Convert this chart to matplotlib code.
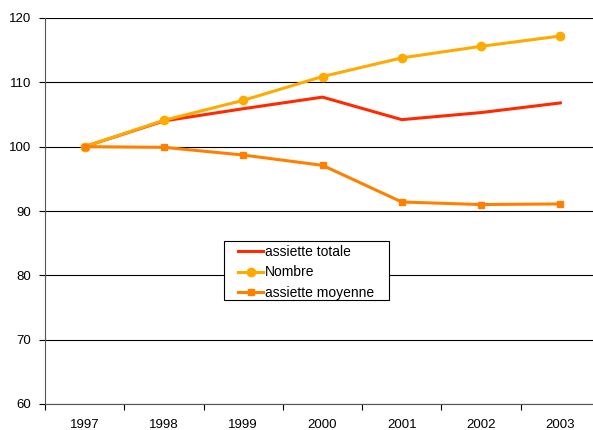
import matplotlib.pyplot as plt
import matplotlib.patches as patches
import numpy as np

plt.rcParams['font.family'] = ['Liberation Sans', 'DejaVu Sans']

years = ["1997", "1998", "1999", "2000", "2001", "2002", "2003"]
assiette_totale = [100.0, 104.0, 105.9, 107.7, 104.2, 105.3, 106.8]
nombre = [100.0, 104.1, 107.2, 110.9, 113.8, 115.6, 117.2]
assiette_moyenne = [100.0, 99.9, 98.7, 97.1, 91.4, 91.0, 91.1]

W, H = 593, 430
fig = plt.figure(figsize=(W / 100, H / 100), dpi=100)
ax = fig.add_axes([45 / W, 26 / H, 555 / W, 386 / H])

x = np.arange(len(years))
ax.plot(x, assiette_totale, color="#FF2A00", lw=2.2, label="assiette totale", zorder=3)
ax.plot(x, nombre, color="#FFAA00", lw=2.2, marker="o", ms=6,
        label="Nombre", zorder=4)
ax.plot(x, assiette_moyenne, color="#FF8000", lw=2.2, marker="s", ms=5,
        label="assiette moyenne", zorder=5)

ax.set_xlim(-0.5, len(years) - 0.5)
ax.set_ylim(60, 120)
ax.set_yticks(np.arange(60, 121, 10))
ax.set_xticks(np.arange(-0.5, len(years), 1.0))
ax.set_xticklabels([])
ax.set_xticks(x, minor=True)
ax.set_xticklabels(years, minor=True)
ax.tick_params(axis="x", which="minor", length=0, pad=11, labelsize=9.5)
ax.tick_params(axis="x", which="major", length=4, direction="out", width=0.8)
ax.tick_params(axis="y", length=4, direction="out", width=0.8, labelsize=9.5, pad=6)

ax.grid(axis="y", color="black", lw=0.8)
ax.set_axisbelow(True)
for side in ["top", "right"]:
    ax.spines[side].set_visible(False)
ax.spines["left"].set_color("#555555")
ax.spines["bottom"].set_color("#555555")

# legend frame drawn by hand (wider side padding than the legend allows)
box = patches.Rectangle((224 / W, 1 - 300 / H), 165 / W, 59 / H,
                        transform=fig.transFigure, fc="white", ec="black",
                        lw=0.8, zorder=2, clip_on=False)
ax.add_patch(box)
leg = ax.legend(loc="upper left", bbox_to_anchor=(234 / W, 1 - 241 / H),
                bbox_transform=fig.transFigure, frameon=False, fontsize=10,
                handlelength=1.8, handletextpad=0.15, borderpad=0.3,
                labelspacing=0.45, borderaxespad=0)
leg.set_zorder(6)

plt.savefig("out.png", dpi=100)
